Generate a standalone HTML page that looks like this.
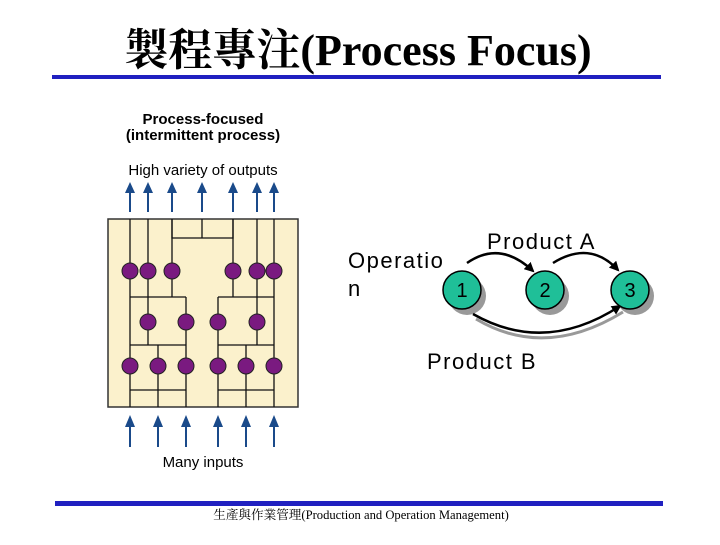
<!DOCTYPE html>
<html><head><meta charset="utf-8"><style>
body{margin:0;width:720px;height:540px;background:#fff;overflow:hidden}
</style></head><body>
<svg width="720" height="540" xmlns="http://www.w3.org/2000/svg">
<defs><marker id="a" markerWidth="10" markerHeight="10" refX="8" refY="5" orient="auto" markerUnits="userSpaceOnUse"><path d="M0,0 L10,5 L0,10 z" fill="#000"/></marker></defs>
<text x="358" y="65" text-anchor="middle" font-family="Liberation Serif, Noto Serif CJK SC, serif" font-size="44" font-weight="bold">製程專注(Process Focus)</text>
<rect x="52" y="75" width="609" height="4" fill="#2020c0"/>
<rect x="55" y="501" width="608" height="5" fill="#2020c0"/>
<text x="361" y="519" text-anchor="middle" font-family="Liberation Serif, Noto Serif CJK SC, serif" font-size="12.6">生產與作業管理(Production and Operation Management)</text>
<g font-family="Liberation Sans, sans-serif" text-anchor="middle">
<text x="203" y="124" font-size="15" font-weight="bold">Process-focused</text>
<text x="203" y="140" font-size="15" font-weight="bold">(intermittent process)</text>
<text x="203" y="175" font-size="15">High variety of outputs</text>
<text x="203" y="467" font-size="15">Many inputs</text>
</g>
<rect x="108" y="219" width="190" height="188" fill="#fbf1cc" stroke="#333" stroke-width="1.5"/>
<g stroke="#111" stroke-width="1.3" fill="none">
<path d="M130 219V407M148 219V345M172 219V297M130 297H186M186 297V407M130 345H186M158 345V407M130 390H186"/>
<path d="M274 219V407M257 219V345M233 219V297M218 297H274M218 297V407M218 345H274M246 345V407M218 390H274"/>
<path d="M172 219V238H233V219M202 219V238"/>
</g>
<g fill="#7a1a80" stroke="#222" stroke-width="1">
<circle cx="130" cy="271" r="8"/><circle cx="148" cy="271" r="8"/><circle cx="172" cy="271" r="8"/>
<circle cx="233" cy="271" r="8"/><circle cx="257" cy="271" r="8"/><circle cx="274" cy="271" r="8"/>
<circle cx="148" cy="322" r="8"/><circle cx="186" cy="322" r="8"/><circle cx="218" cy="322" r="8"/><circle cx="257" cy="322" r="8"/>
<circle cx="130" cy="366" r="8"/><circle cx="158" cy="366" r="8"/><circle cx="186" cy="366" r="8"/>
<circle cx="218" cy="366" r="8"/><circle cx="246" cy="366" r="8"/><circle cx="274" cy="366" r="8"/>
</g>
<g stroke="#1a4a8a" stroke-width="2" fill="#1a4a8a">
<g id="ta">
<path d="M130 212V190"/><path d="M125 193L130 182L135 193z" stroke="none"/>
</g>
<use href="#ta" x="18"/><use href="#ta" x="42"/><use href="#ta" x="72"/><use href="#ta" x="103"/><use href="#ta" x="127"/><use href="#ta" x="144"/>
<g id="ba"><path d="M130 447V424"/><path d="M125 427L130 415L135 427z" stroke="none"/></g>
<use href="#ba" x="28"/><use href="#ba" x="56"/><use href="#ba" x="88"/><use href="#ba" x="116"/><use href="#ba" x="144"/>
</g>
<g font-family="Liberation Sans, sans-serif" font-size="22" letter-spacing="1.5">
<text x="348" y="268">Operatio</text>
<text x="348" y="296">n</text>
<text x="487" y="249">Product A</text>
<text x="427" y="369">Product B</text>
</g>
<g fill="#999"><circle cx="467" cy="296" r="19"/><circle cx="550" cy="296" r="19"/><circle cx="635" cy="296" r="19"/></g>
<g stroke="#999" stroke-width="3" fill="none"><path d="M476 319Q545 360 623 312"/></g>
<g stroke="#000" stroke-width="2.5" fill="none">
<path d="M467 263Q500 240 533 271" marker-end="url(#a)"/>
<path d="M553 263Q590 240 618 270" marker-end="url(#a)"/>
<path d="M473 314Q545 355 620 306" marker-end="url(#a)"/>
</g>
<g fill="#1fbf98" stroke="#000" stroke-width="1.5"><circle cx="462" cy="290" r="19"/><circle cx="545" cy="290" r="19"/><circle cx="630" cy="290" r="19"/></g>
<g font-family="Liberation Sans, sans-serif" font-size="20" text-anchor="middle"><text x="462" y="297">1</text><text x="545" y="297">2</text><text x="630" y="297">3</text></g>
</svg>
</body></html>
